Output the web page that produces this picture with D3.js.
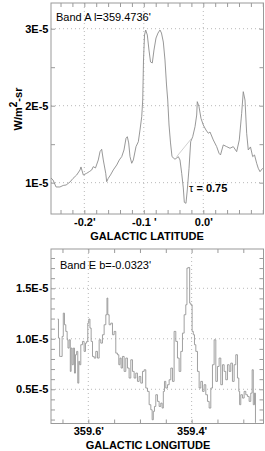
<!DOCTYPE html>
<html>
<head>
<meta charset="utf-8">
<script src="https://cdn.jsdelivr.net/npm/d3@7"></script>
<style>
  body { margin: 0; background: #fff; }
  text { font-family: 'Liberation Sans', Arial, sans-serif; }
</style>
</head>
<body>
<div id="chart"></div>
<script>
// Band A: flux (units of 1E-5 W/m^2-sr) vs galactic latitude (deg)
const latDeg = [-0.256, -0.2526, -0.2475, -0.241, -0.2355, -0.2306, -0.224, -0.219, -0.2128, -0.2072,
    -0.2056, -0.2017, -0.196, -0.1917, -0.1876, -0.185, -0.1812, -0.1765, -0.1736, -0.1708,
    -0.1681, -0.164, -0.1624, -0.1597, -0.156, -0.1513, -0.1455, -0.1412, -0.1371, -0.1333,
    -0.1299, -0.1277, -0.1254, -0.1232, -0.1203, -0.1176, -0.1131, -0.1092, -0.1064, -0.1035,
    -0.1018, -0.1005, -0.0988, -0.0968, -0.0941, -0.0913, -0.0887, -0.0857, -0.0829, -0.0795,
    -0.0761, -0.0728, -0.0703, -0.0672, -0.0644, -0.0618, -0.0598, -0.0576, -0.0551, -0.0526,
    -0.0476, -0.042, -0.0392, -0.0363, -0.0336, -0.0319, -0.0291, -0.0269, -0.024, -0.0212,
    -0.0178, -0.0139, -0.0111, -0.0101, -0.0072, -0.0039, 0, 0.0045, 0.0084, 0.0113,
    0.0168, 0.0225, 0.0264, 0.0289, 0.0336, 0.0393, 0.0449, 0.0504, 0.0561, 0.0605,
    0.0645, 0.0672, 0.0701, 0.0729, 0.0756, 0.0793, 0.083, 0.0861, 0.0897, 0.0924,
    0.0953, 0.0998]
const fluxA = [1.061, 1.035, 0.944, 0.944, 0.964, 0.970, 1.009, 1.055, 1.100, 1.165,
    1.204, 1.100, 1.122, 1.143, 1.165, 1.208, 1.191, 1.295, 1.403, 1.434,
    1.295, 1.122, 1.013, 1.057, 1.100, 1.165, 1.230, 1.295, 1.338, 1.425,
    1.577, 1.597, 1.516, 1.338, 1.252, 1.295, 1.468, 1.532, 1.684, 1.857,
    2.074, 2.594, 2.918, 2.983, 2.918, 2.723, 2.568, 2.555, 2.723, 2.879,
    2.944, 2.983, 2.944, 2.827, 2.594, 2.269, 2.074, 1.749, 1.516, 1.338,
    1.304, 1.338, 1.295, 1.122, 0.931, 0.745, 0.732, 0.905, 1.187, 1.532,
    1.597, 1.727, 1.879, 2.052, 1.987, 1.836, 1.749, 1.684, 1.642, 1.658,
    1.555, 1.468, 1.382, 1.360, 1.490, 1.468, 1.447, 1.468, 1.403, 1.555,
    1.901, 2.182, 2.074, 1.642, 1.425, 1.464, 1.338, 1.360, 1.252, 1.187,
    1.143, 1.187]
// straight baseline drawn across the absorption dip
const tauLat = [-0.0447, -0.0195]
const tauFlux = [1.338, 1.577]

// Band E: flux vs galactic longitude (deg)
const lonDeg = [359.6594, 359.6561, 359.6548, 359.6516, 359.6497, 359.6471, 359.6452, 359.6419, 359.6400, 359.6387,
    359.6355, 359.6342, 359.6323, 359.6303, 359.6277, 359.6258, 359.6239, 359.6213, 359.6194, 359.6174,
    359.6161, 359.6129, 359.6097, 359.6065, 359.6045, 359.6019, 359.6000, 359.5981, 359.5955, 359.5935,
    359.5903, 359.5871, 359.5839, 359.5806, 359.5774, 359.5742, 359.5710, 359.5677, 359.5645, 359.5632,
    359.5613, 359.5581, 359.5548, 359.5516, 359.5484, 359.5452, 359.5419, 359.5400, 359.5374, 359.5355,
    359.5323, 359.5290, 359.5258, 359.5226, 359.5194, 359.5161, 359.5129, 359.5097, 359.5065, 359.5032,
    359.5000, 359.4968, 359.4935, 359.4903, 359.4871, 359.4839, 359.4806, 359.4774, 359.4755, 359.4729,
    359.4710, 359.4677, 359.4645, 359.4613, 359.4581, 359.4561, 359.4535, 359.4516, 359.4484, 359.4452,
    359.4419, 359.4387, 359.4355, 359.4323, 359.4290, 359.4258, 359.4226, 359.4194, 359.4161, 359.4129,
    359.4097, 359.4084, 359.4045, 359.4032, 359.4000, 359.3981, 359.3955, 359.3935, 359.3903, 359.3871,
    359.3839, 359.3806, 359.3774, 359.3742, 359.3710, 359.3677, 359.3645, 359.3613, 359.3581, 359.3548,
    359.3516, 359.3484, 359.3452, 359.3419, 359.3387, 359.3355, 359.3323, 359.3290, 359.3258, 359.3226,
    359.3194, 359.3161, 359.3129, 359.3097, 359.3077, 359.3065, 359.3032, 359.3000, 359.2968, 359.2935,
    359.2903, 359.2871, 359.2839, 359.2819, 359.2794, 359.2774, 359.2755]
const fluxE = [1.195, 1.007, 0.825, 0.825, 1.023, 1.254, 1.139, 1.073, 0.990, 0.908,
    0.990, 0.677, 0.908, 0.743, 0.908, 0.660, 0.842, 0.875, 0.561, 0.776,
    0.743, 0.941, 0.974, 0.875, 0.957, 0.974, 1.155, 1.195, 1.106, 0.974,
    0.825, 0.809, 0.875, 0.809, 0.990, 0.957, 1.040, 1.139, 1.238, 1.403,
    1.238, 1.139, 1.155, 1.040, 1.073, 0.858, 0.842, 0.743, 0.809, 0.710,
    0.825, 0.677, 0.809, 0.710, 0.611, 0.792, 0.677, 0.611, 0.660, 0.578,
    0.627, 0.561, 0.677, 0.693, 0.512, 0.479, 0.347, 0.297, 0.198, 0.281,
    0.330, 0.446, 0.380, 0.330, 0.363, 0.314, 0.479, 0.578, 0.512, 0.545,
    0.594, 0.710, 0.578, 1.073, 0.974, 0.809, 0.677, 0.875, 1.056, 1.238,
    1.337, 1.700, 1.706, 1.353, 1.337, 1.073, 1.040, 0.941, 0.875, 0.677,
    0.512, 0.578, 0.479, 0.545, 0.446, 0.380, 0.314, 0.512, 0.743, 0.990,
    0.578, 0.726, 0.809, 0.545, 0.743, 0.677, 0.594, 0.743, 0.677, 0.759,
    0.578, 0.743, 0.842, 0.611, 0.479, 0.347, 0.446, 0.413, 0.479, 0.446,
    0.429, 0.380, 0.462, 0.693, 0.347, 0.462, 0.17]

// tick labels
const latTicks = [-0.2, -0.1, 0.0]
const latTickLabels = ["-0.2'", "-0.1 '", "0.0'"]
const fluxATicks = [1, 2, 3]
const fluxATickLabels = ['1E-5', '2E-5', '3E-5']
const lonTicks = [359.6, 359.4]
const lonTickLabels = ["359.6'", "359.4'"]
const fluxETicks = [0.5, 1.0, 1.5]
const fluxETickLabels = ['0.5E-5', '1.0E-5', '1.5E-5']

const width = 265
const height = 451
const frameColor = '#9a9a9a'
const lineColor = '#8c8c8c'
const gridColor = '#b8b8b8'

const svg = d3.select('#chart').append('svg')
    .attr('width', width).attr('height', height)
    .style('background', '#fff')

function panel (opts) {
    const { x, y, xMajor, xLabels, xMinor, yMajor, yLabels, yMinor } = opts
    const [x0, x1] = x.range()
    const [y0, y1] = y.range() // y0 bottom, y1 top
    const g = svg.append('g')

    // dotted grid at major ticks
    g.selectAll().data(xMajor).enter().append('line')
        .attr('x1', d => x(d)).attr('x2', d => x(d))
        .attr('y1', y1).attr('y2', y0)
        .attr('stroke', gridColor).attr('stroke-dasharray', '1,3')
    g.selectAll().data(yMajor).enter().append('line')
        .attr('x1', x0).attr('x2', x1)
        .attr('y1', d => y(d)).attr('y2', d => y(d))
        .attr('stroke', gridColor).attr('stroke-dasharray', '1,3')

    // minor ticks on all four sides, pointing inward
    const tick = (axis, tr) => {
        const a = g.append('g').attr('transform', tr).call(axis)
        a.select('.domain').remove()
        a.selectAll('line').attr('stroke', frameColor)
    }
    tick(d3.axisBottom(x).tickValues(xMinor).tickSize(-4).tickFormat(''), `translate(0,${y0})`)
    tick(d3.axisTop(x).tickValues(xMinor).tickSize(-4).tickFormat(''), `translate(0,${y1})`)
    tick(d3.axisLeft(y).tickValues(yMinor).tickSize(-4).tickFormat(''), `translate(${x0},0)`)
    tick(d3.axisRight(y).tickValues(yMinor).tickSize(-4).tickFormat(''), `translate(${x1},0)`)

    // frame
    g.append('rect')
        .attr('x', x0).attr('y', y1)
        .attr('width', x1 - x0).attr('height', y0 - y1)
        .attr('fill', 'none').attr('stroke', frameColor)

    // tick labels
    const xa = g.append('g').attr('transform', `translate(0,${y0})`)
        .call(d3.axisBottom(x).tickValues(xMajor).tickSize(0).tickPadding(4)
            .tickFormat((d, i) => xLabels[i]))
    const ya = g.append('g').attr('transform', `translate(${x0},0)`)
        .call(d3.axisLeft(y).tickValues(yMajor).tickSize(0).tickPadding(2.5)
            .tickFormat((d, i) => yLabels[i]))
    for (const a of [xa, ya]) {
        a.select('.domain').remove()
        a.selectAll('text').attr('font-family', "'Liberation Sans', Arial, sans-serif")
            .attr('font-size', 11).attr('font-weight', 'bold').attr('fill', '#000')
    }
    return g
}

// ---------- top panel: Band A ----------
const xA = d3.scaleLinear().domain([-0.256, 0.1012]).range([51, 263.5])
const yA = d3.scaleLinear().domain([0.593, 3.334]).range([214, 3])
const gA = panel({
    x: xA, y: yA,
    xMajor: latTicks, xLabels: latTickLabels,
    xMinor: d3.range(-0.24, 0.101, 0.02),
    yMajor: fluxATicks, yLabels: fluxATickLabels,
    yMinor: d3.range(1, 3.3, 0.5)
})

const lineA = d3.line().x(d => xA(d[0])).y(d => yA(d[1]))
gA.append('path')
    .datum(d3.zip(latDeg, fluxA))
    .attr('d', lineA)
    .attr('fill', 'none').attr('stroke', lineColor).attr('stroke-width', 0.9)
gA.append('path')
    .datum(d3.zip(tauLat, tauFlux))
    .attr('d', lineA)
    .attr('fill', 'none').attr('stroke', '#c4c4c4').attr('stroke-width', 0.8)

gA.append('text').attr('x', 56).attr('y', 21)
    .attr('font-size', 11).text("Band A l=359.4736'")
const tau = gA.append('text').attr('x', 189).attr('y', 192).attr('font-size', 11)
tau.append('tspan').text('τ ')
tau.append('tspan').attr('font-weight', 'bold').text('= 0.75')

gA.append('text')
    .attr('x', 147).attr('y', 240)
    .attr('text-anchor', 'middle')
    .attr('font-size', 11).attr('font-weight', 'bold')
    .text('GALACTIC LATITUDE')

const yTitle = gA.append('text')
    .attr('transform', 'translate(22,109) rotate(-90)')
    .attr('text-anchor', 'middle')
    .attr('font-size', 11).attr('font-weight', 'bold')
yTitle.append('tspan').text('W/m')
yTitle.append('tspan').attr('dy', -5).attr('font-size', 10).text('2')
yTitle.append('tspan').attr('dy', 5).text('-sr')

// ---------- bottom panel: Band E ----------
const xE = d3.scaleLinear().domain([359.6722, 359.2609]).range([51, 263.5])
const yE = d3.scaleLinear().domain([0.161, 1.889]).range([423.5, 249])
const gE = panel({
    x: xE, y: yE,
    xMajor: lonTicks, xLabels: lonTickLabels,
    xMinor: d3.range(359.65, 359.26, -0.05),
    yMajor: fluxETicks, yLabels: fluxETickLabels,
    yMinor: d3.range(0.2, 1.85, 0.1)
})

gE.append('path')
    .datum(d3.zip(lonDeg, fluxE))
    .attr('d', d3.line().curve(d3.curveStep).x(d => xE(d[0])).y(d => yE(d[1])))
    .attr('fill', 'none').attr('stroke', '#959595').attr('stroke-width', 0.9)

gE.append('text').attr('x', 60).attr('y', 269)
    .attr('font-size', 11).text("Band E b=-0.0323'")

gE.append('text')
    .attr('x', 148).attr('y', 449)
    .attr('text-anchor', 'middle')
    .attr('font-size', 11).attr('font-weight', 'bold')
    .text('GALACTIC LONGITUDE')
</script>
</body>
</html>
